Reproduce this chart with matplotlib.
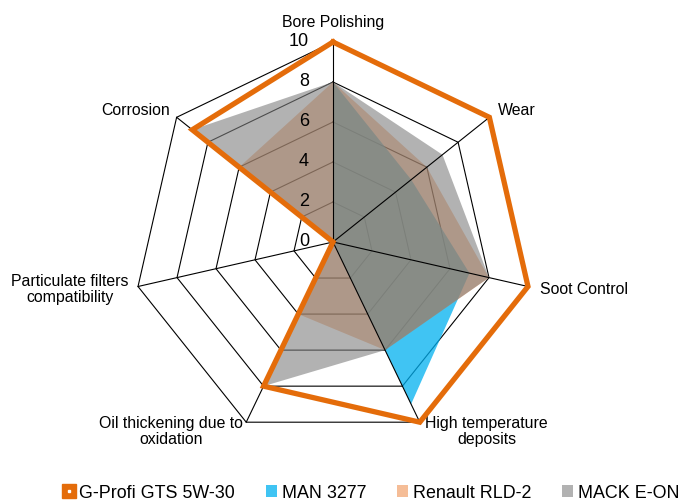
import numpy as np
import matplotlib
matplotlib.use("Agg")
import matplotlib.pyplot as plt
from matplotlib.lines import Line2D
from matplotlib.patches import Patch

plt.rcParams['font.family'] = ['Liberation Sans', 'DejaVu Sans']

categories = ["Bore Polishing", "Wear", "Soot Control", "High temperature\ndeposits",
              "Oil thickening due to\noxidation", "Particulate filters\ncompatibility", "Corrosion"]
gprofi = [10, 10, 10, 10, 8, 0, 9]
man3277 = [8, 5, 7, 9, 0, 0, 0]
renault = [8, 6, 8, 6, 4, 0, 6]
mack = [8, 7, 8, 6, 8, 0, 9]
ticks = [0, 2, 4, 6, 8, 10]
series_names = ["G-Profi GTS 5W-30", "MAN 3277", "Renault RLD-2", "MACK E-ON"]

ORANGE = '#E46C0A'
BLUE = '#00B0F0'
PEACH = '#ED7D31'
GRAY = '#808080'

n = len(categories)
theta = np.arange(n) * 2 * np.pi / n
tc = np.append(theta, theta[0])

def closed(v):
    return list(v) + [v[0]]

W, H = 681, 504
fig = plt.figure(figsize=(W / 100, H / 100), dpi=100)
cx, cy, R = 333, 242, 200
ax = fig.add_axes([(cx - R) / W, (H - cy - R) / H, 2 * R / W, 2 * R / H], projection='polar')
ax.set_theta_zero_location('N')
ax.set_theta_direction(-1)
ax.set_ylim(0, 10)
ax.set_xticks([])
ax.set_yticks([])
ax.grid(False)
ax.spines['polar'].set_visible(False)

# heptagon grid
for r in ticks[1:]:
    ax.plot(tc, [r] * (n + 1), color='black', lw=0.8, zorder=1, clip_on=False)

# fills
ax.fill(tc, closed(man3277), color=BLUE, alpha=0.75, lw=0, zorder=2)
ax.fill(tc, closed(renault), color=PEACH, alpha=0.5, lw=0, zorder=2)
ax.fill(tc, closed(mack), color=GRAY, alpha=0.6, lw=0, zorder=2)

# spokes
for t in theta:
    ax.plot([t, t], [0, 10], color='black', lw=0.8, zorder=3, clip_on=False)

# G-Profi line
ax.plot(tc, closed(gprofi), color=ORANGE, lw=3.8, zorder=5, clip_on=False,
        solid_joinstyle='miter')

# radial tick labels
for r in ticks:
    ax.annotate(str(r), xy=(0, r), xytext=(-24, 0), textcoords='offset pixels',
                ha='right', va='center', fontsize=13, zorder=6, annotation_clip=False)

# category labels
offsets = [(0, 20, 'center'), (9, 7, 'left'), (12, -2.5, 'left'), (67, -9, 'center'),
           (-75.5, -9, 'center'), (-68, -3, 'center'), (-7, 7, 'right')]
for t, lab, (dx, dy, ha) in zip(theta, categories, offsets):
    ax.annotate(lab, xy=(t, 10), xytext=(dx, dy), textcoords='offset pixels',
                ha=ha, va='center', multialignment='center', fontsize=11.4,
                linespacing=1.1, annotation_clip=False)

# legend
h1 = (Line2D([], [], marker='s', markersize=10.5, markerfacecolor=ORANGE,
             markeredgecolor=ORANGE, linestyle='none'),
      Line2D([], [], marker='s', markersize=2, markerfacecolor='white',
             markeredgecolor='white', linestyle='none'))
h2 = Patch(facecolor=BLUE, alpha=0.75, lw=0)
h3 = Patch(facecolor=PEACH, alpha=0.5, lw=0)
h4 = Patch(facecolor=GRAY, alpha=0.6, lw=0)
fig.legend([h1, h2, h3, h4], series_names, loc='center left',
           bbox_to_anchor=(64 / W, 11 / H), ncol=4, frameon=False, fontsize=12.9,
           handlelength=0.6, handleheight=0.6, handletextpad=0.25,
           columnspacing=1.75, borderpad=0, borderaxespad=0)

fig.savefig('out.png', dpi=100)
